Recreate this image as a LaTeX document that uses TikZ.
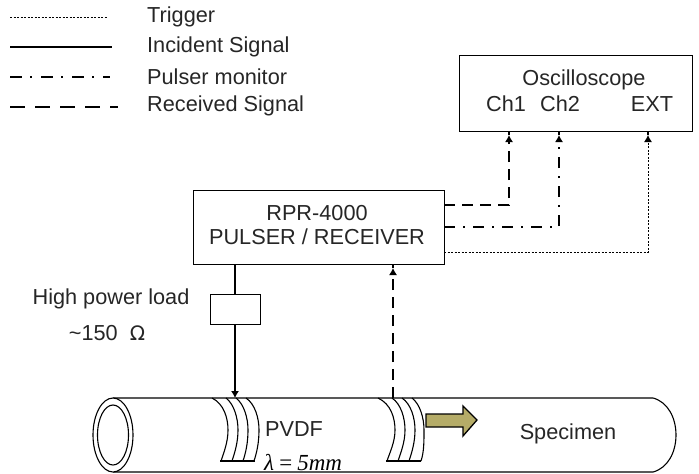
\documentclass[tikz,border=0pt]{standalone}
\usepackage{fontspec}
\setmainfont{Liberation Sans}
\newfontfamily\lamfont[ItalicFont={Liberation Serif Italic}]{Liberation Serif}
\usetikzlibrary{arrows.meta}
\tikzset{
 box/.style={draw,line width=1.3pt,fill=white,inner sep=0pt},
 lbl/.style={font=\fontsize{21.7}{24}\selectfont,inner sep=0pt,text=black!85},
 sig/.style={line width=1.2pt},
 tip/.style={-{Latex[length=7pt,width=8pt]}},
 trig/.style={line width=1pt,dash pattern=on 2pt off 1.5pt},
 inc/.style={sig},
 pulse/.style={sig,dash pattern=on 11pt off 8pt on 2pt off 8pt},
 recv/.style={sig,dash pattern=on 11pt off 7pt},
 legpulse/.style={sig,dash pattern=on 12pt off 8pt on 2pt off 9pt},
 legrecv/.style={sig,dash pattern=on 15pt off 10pt},
 wire/.style={line width=1.1pt},
}
\begin{document}
\begin{tikzpicture}[x=1pt,y=-1pt]
\useasboundingbox (0,0) rectangle (699,474);
% legend
\coordinate (l1a) at (10,17); \coordinate (l1b) at (108,17);
\coordinate (l2a) at (10,47); \coordinate (l2b) at (112,47);
\coordinate (l3a) at (10,77); \coordinate (l3b) at (110,77);
\coordinate (l4a) at (10,107); \coordinate (l4b) at (118,107);
\draw[trig] (l1a) -- (l1b);
\draw[inc] (l2a) -- (l2b);
\draw[legpulse] (l3a) -- (l3b);
\draw[legrecv] (l4a) -- (l4b);
\node[lbl,anchor=west] (t1) at (147,17) {Trigger};
\node[lbl,anchor=west] (t2) at (147,47) {Incident Signal};
\node[lbl,anchor=west] (t3) at (147,77) {Pulser monitor};
\node[lbl,anchor=west] (t4) at (147,106) {Received Signal};
% boxes
\node[box,minimum width=233pt,minimum height=76pt,anchor=north west] (osc) at (459,55) {};
\node[lbl] (osct) at (584,80) {Oscilloscope};
\node[lbl] (ch1) at (506,104) {Ch1};
\node[lbl] (ch2) at (560,104) {Ch2};
\node[lbl] (ext) at (652,104) {EXT};
\node[box,minimum width=251pt,minimum height=74pt,anchor=north west] (rpr) at (193,190) {};
\node[lbl] (r1) at (317,213) {RPR-4000};
\node[lbl] (r2) at (317,237) {PULSER / RECEIVER};
\node[box,minimum width=50pt,minimum height=30pt,anchor=north west] (load) at (210,294) {};
\node[lbl] (hp) at (111,299) {High power load};
\node[lbl] (ohm) at (107,333) {\textasciitilde150\ \ \fontspec{DejaVu Sans}\fontsize{20}{22}\selectfont Ω};
% specimen
\coordinate (ttl) at (113,398); \coordinate (ttr) at (653,398);
\coordinate (tbl) at (113,472); \coordinate (tbr) at (653,472);
\draw[wire] (ttl) -- (ttr) .. controls (668,402) and (676,418) .. (676,435) .. controls (676,452) and (668,468) .. (tbr) -- (tbl);
\draw[wire,fill=white] (113,435) ellipse[x radius=20pt,y radius=37pt];
\draw[wire] (113,435) ellipse[x radius=15.5pt,y radius=30pt];
% coils
\foreach \a/\b/\c in {212/228/221,226/238/232,236/248/243,246/259/254,378/395/387,392/405/398,402/415/409,412/424/421}{
 \draw[wire] (\a,398) .. controls ({\b-4},404) and (\b,418) .. (\b,430) .. controls (\b,442) and ({\c+3},452) .. (\c,461);
}
\coordinate (c1a) at (220,461); \coordinate (c1b) at (255,461);
\coordinate (c2a) at (386,461); \coordinate (c2b) at (421,461);
\draw[wire] (c1a) -- (c1b);
\draw[wire] (c2a) -- (c2b);
\node[lbl] (pvdf) at (294,429) {PVDF};
\node[inner sep=0pt,anchor=base west,text=black,font=\fontsize{23}{24}\selectfont\lamfont\itshape] (lam) at (264,470) {λ\,=\,5mm};
\node[lbl] (spec) at (568,434) {Specimen};
% olive arrow
\definecolor{olivefill}{HTML}{B5AC68}
\draw[line width=1.3pt,fill=olivefill] (426,414) -- (463,414) -- (463,406) -- (477,420) -- (463,436) -- (463,427) -- (426,427) -- cycle;
% connectors
\coordinate (tt1) at (235,398);
\coordinate (tt2) at (393,398);
\coordinate (p1) at (444,205); \coordinate (p2) at (444,227); \coordinate (p3) at (444,252);
\coordinate (h1) at (509,135); \coordinate (h2) at (559,135); \coordinate (h3) at (648,135);
\coordinate (h4) at (393,268);
\draw[inc] (rpr.south -| tt1) -- (load.north -| tt1);
\draw[inc,tip] (load.south -| tt1) -- (tt1);
\draw[recv,tip] (tt2) -- (h4);
\draw[sig] (h4) -- (rpr.south -| h4);
\draw[recv,tip] (p1) -| (h1);
\draw[pulse,tip] (p2) -| (h2);
\draw[trig,tip] (p3) -| (h3);
\draw[sig] (h1) -- (osc.south -| h1);
\draw[sig] (h2) -- (osc.south -| h2);
\draw[sig] (h3) -- (osc.south -| h3);
\end{tikzpicture}
\end{document}
